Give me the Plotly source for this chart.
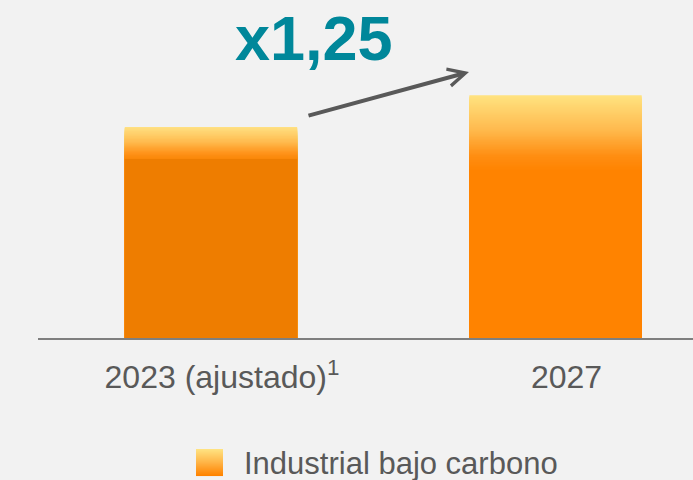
import plotly.graph_objects as go

# ---------------- data ----------------
categories = ["2023 (ajustado)<sup>1</sup>", "2027"]
values = [100, 115]
series_name = "Industrial bajo carbono"
multiplier_label = "x1,25"

# ---------------- layout constants ----------------
W, H = 693, 480
L, R, T, B = 38, 0, 0, 142
plot_w = W - L - R
plot_h = H - T - B
px_per_unit = 2.11
y_max = plot_h / px_per_unit

BG = "#f2f2f2"
TEXT_GRAY = "#595959"
FONT = "Liberation Sans, Arial, sans-serif"

# per-bar styling: solid body colour, gradient height (px), gradient stops (top -> bottom)
bar_styles = [
    dict(solid=(238, 125, 0), grad_px=32,
         stops=[(0.0, (255, 224, 130)), (0.45, (255, 188, 80)), (0.8, (255, 148, 28)), (1.0, (250, 134, 6))]),
    dict(solid=(255, 131, 0), grad_px=75,
         stops=[(0.0, (255, 226, 128)), (0.45, (255, 186, 78)), (0.8, (255, 142, 18)), (1.0, (255, 131, 0))]),
]
swatch_stops = [(0.0, (255, 226, 128)), (0.5, (255, 180, 70)), (1.0, (255, 131, 0))]


def interp(stops, f):
    for (f0, c0), (f1, c1) in zip(stops[:-1], stops[1:]):
        if f <= f1:
            t = 0 if f1 == f0 else (f - f0) / (f1 - f0)
            return tuple(round(a + (b - a) * t) for a, b in zip(c0, c1))
    return stops[-1][1]


def rgb(c):
    return "rgb(%d,%d,%d)" % c


def pxx(px):
    return (px - L) / plot_w


def pxy(py):
    return (T + plot_h - py) / plot_h


fig = go.Figure()

N = 60
bar_w = 0.5
for k in range(N):
    f = k / N
    heights = [v - f * s["grad_px"] / px_per_unit for v, s in zip(values, bar_styles)]
    colors = [rgb(interp(s["stops"], f)) for s in bar_styles]
    fig.add_trace(go.Bar(x=categories, y=heights, width=bar_w, marker=dict(color=colors, line=dict(width=0)),
                         showlegend=False, hoverinfo="skip"))
# solid body
fig.add_trace(go.Bar(x=categories,
                     y=[v - s["grad_px"] / px_per_unit for v, s in zip(values, bar_styles)],
                     width=bar_w,
                     marker=dict(color=[rgb(s["solid"]) for s in bar_styles], line=dict(width=0)),
                     name=series_name, showlegend=False, hoverinfo="skip"))

shapes = []
# custom legend swatch (gradient)
sw_x0, sw_x1, sw_y0, sw_y1 = 196, 223, 449, 476
n_strips = sw_y1 - sw_y0
for i in range(n_strips):
    f = i / (n_strips - 1)
    shapes.append(dict(type="rect", xref="paper", yref="paper",
                       x0=pxx(sw_x0), x1=pxx(sw_x1), y0=pxy(sw_y0 + i), y1=pxy(sw_y0 + i + 1.05),
                       fillcolor=rgb(interp(swatch_stops, f)), line=dict(width=0), layer="above"))

annotations = [
    dict(text=series_name, xref="paper", yref="paper", x=pxx(242), y=pxy(464),
         xanchor="left", yanchor="middle", showarrow=False,
         font=dict(family=FONT, size=31, color=TEXT_GRAY)),
    dict(text="<b>%s</b>" % multiplier_label, xref="paper", yref="paper", x=pxx(314), y=pxy(38),
         xanchor="center", yanchor="middle", showarrow=False,
         font=dict(family=FONT, size=63, color="#00879A")),
    dict(text="", xref="paper", yref="paper", x=pxx(469), y=pxy(72),
         ax=307 - 469, ay=116 - 72, showarrow=True, arrowhead=5, arrowwidth=4, arrowsize=0.85,
         arrowcolor=TEXT_GRAY, standoff=0, startstandoff=0),
]

fig.update_layout(
    width=W, height=H,
    margin=dict(l=L, r=R, t=T, b=B),
    paper_bgcolor=BG, plot_bgcolor=BG,
    barmode="overlay",
    showlegend=False,
    shapes=shapes,
    annotations=annotations,
    xaxis=dict(type="category", range=[-0.502, 1.399], showgrid=False, zeroline=False,
               showline=True, linecolor="#7f7f7f", linewidth=1.5, ticks="",
               tickfont=dict(family=FONT, size=32, color=TEXT_GRAY), ticklabelstandoff=10,
               ticklabelshift=11),
    yaxis=dict(range=[0, y_max], visible=False, showgrid=False, zeroline=False),
)

fig.write_html("out.html", config={"displayModeBar": False},
               post_script="document.body.style.margin='0';document.body.style.background='%s';" % BG)
